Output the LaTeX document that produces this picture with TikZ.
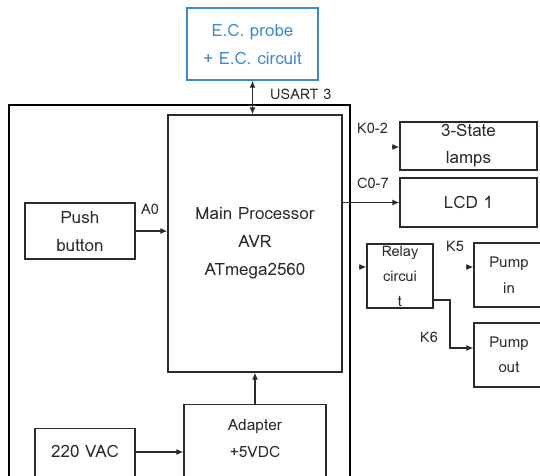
\documentclass[tikz,border=0pt]{standalone}
\usepackage{fontspec}
\setmainfont{Loma}
\usetikzlibrary{arrows.meta}
\definecolor{ecblue}{HTML}{3A8BD0}
\definecolor{ink}{HTML}{2A2A2A}
\begin{document}
\begin{tikzpicture}[x=1pt,y=-1pt,
  blk/.style={draw=ink,line width=1.2pt,text=ink,font=\fontsize{17}{28}\selectfont,align=center,inner sep=0pt},
  sblk/.style={blk,font=\fontsize{15}{23}\selectfont},
  txt/.style={text=ink,align=center,inner sep=0pt},
  lbl/.style={text=ink,font=\fontsize{14.5}{15}\selectfont,inner sep=0pt},
  tip/.style={-{Latex[length=7pt,width=6pt]}},
  conn/.style={draw=ink,line width=1.3pt,tip}]
\useasboundingbox (0,0) rectangle (540,475);
\clip (0,0) rectangle (540,475);
\fill[white] (0,0) rectangle (540,475);
% outer frame
\draw[line width=2.8pt,black] (9,105) rectangle (350,490);
% blocks
\node[blk,draw=ecblue,text=ecblue,line width=1.4pt,minimum width=131pt,minimum height=72pt] (ec) at (252.5,44) {E.C. probe\\+ E.C. circuit};
\node[blk,minimum width=174pt,minimum height=257pt] (mp) at (255,243.5) {Main Processor\\AVR\\ATmega2560};
\node[blk,minimum width=110pt,minimum height=56pt] (pb) at (80,231) {Push\\button};
\node[blk,minimum width=142pt,minimum height=90pt,anchor=north] (ad) at (255,404) {};
\node[txt,font=\fontsize{15.5}{27}\selectfont] (adt) at (255,438) {Adapter\\+5VDC};
\node[blk,minimum width=100pt,minimum height=60pt,anchor=north] (vac) at (85,428) {};
\node[txt,font=\fontsize{17}{20}\selectfont] (vact) at (85,451) {220 VAC};
\node[blk,minimum width=137pt,minimum height=48pt,font=\fontsize{17}{27}\selectfont] (lamp) at (468.5,146) {3-State\\lamps};
\node[blk,minimum width=137pt,minimum height=49pt] (lcd) at (468.5,202.5) {LCD 1};
\node[sblk,minimum width=66pt,minimum height=64pt,font=\fontsize{14.5}{25}\selectfont] (relay) at (400,276) {Relay\\circui\\t};
\node[sblk,minimum width=70pt,minimum height=64pt,font=\fontsize{15}{26}\selectfont] (pin) at (509,275) {Pump\\in};
\node[sblk,minimum width=70pt,minimum height=64pt,font=\fontsize{15}{25}\selectfont] (pout) at (509,355) {Pump\\out};
% connectors
\draw[conn,{Latex[length=7pt,width=6pt]}-{Latex[length=7pt,width=6pt]}] (mp.north -| ec.south) -- (ec.south);
\draw[ink,line width=1pt] (248,105) -- (256,105);
\draw[conn] (pb.east) -- (pb.east -| mp.west);
\draw[conn] (vac.north east |- 0,452) -- (ad.west |- 0,452);
\draw[conn] (ad.north) -- (mp.south);
\draw[conn] (mp.east |- lcd.west) -- (lcd.west);
\coordinate (k0) at (392,147);
\draw[conn] (k0) -- (lamp.west |- k0);
\coordinate (rl) at (359,267);
\draw[conn] (rl) -- (relay.west |- rl);
\coordinate (k5) at (466,267);
\draw[conn] (k5) -- (pin.west |- k5);
\draw[conn] (relay.east |- 0,300) -| (450,348) -- (pout.west |- 0,348);
% labels
\node[lbl,anchor=west] at (270,94) {USART 3};
\node[lbl,anchor=west] at (357,128) {K0-2};
\node[lbl,anchor=west] at (357,183) {C0-7};
\node[lbl,anchor=west] at (141,209) {A0};
\node[lbl,anchor=west] at (446,246) {K5};
\node[lbl,anchor=west] at (420,337) {K6};
\end{tikzpicture}
\end{document}
